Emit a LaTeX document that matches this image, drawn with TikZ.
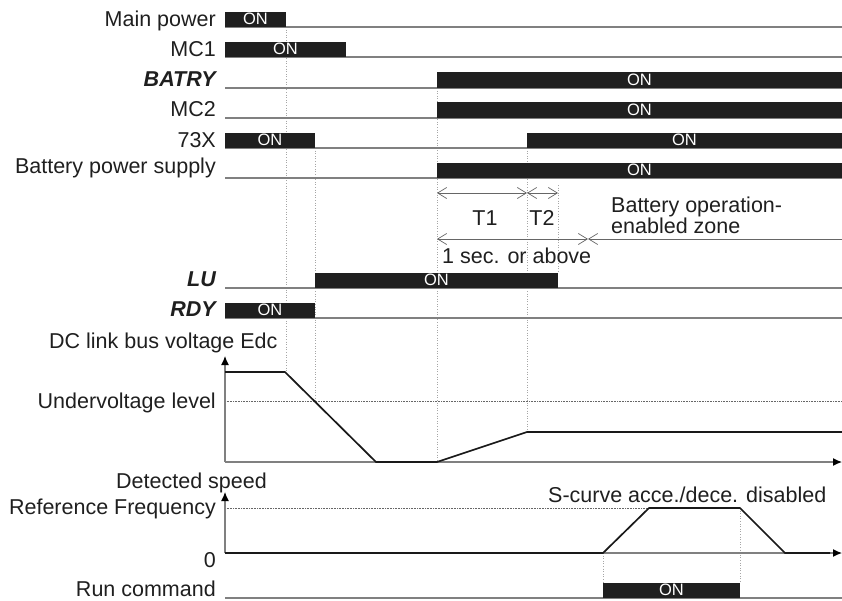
\documentclass[tikz,border=0pt]{standalone}
\usepackage{fontspec}
\setmainfont{Liberation Sans}
\usetikzlibrary{arrows.meta}
\tikzset{mtip/.tip={Straight Barb[length=9pt,width=11pt]}}
\begin{document}
\begin{tikzpicture}[x=1pt,y=-1pt,
  lbl/.style={anchor=base east,inner sep=0pt,font=\fontsize{21.5}{25}\selectfont,text=black!88},
  blbl/.style={lbl,font=\fontsize{21.5}{25}\selectfont\bfseries\itshape},
  txt/.style={anchor=base west,inner sep=0pt,font=\fontsize{21.5}{25}\selectfont,text=black!88},
  ctxt/.style={anchor=base,inner sep=0pt,font=\fontsize{21.5}{25}\selectfont,text=black!88},
  ontxt/.style={anchor=base,inner sep=0pt,font=\fontsize{16.5}{19}\selectfont,text=white},
  sig/.style={draw=black!50,line width=1.2pt},
  onbar/.style={fill=black!88},
  guide/.style={draw=black!35,dotted,line width=0.6pt},
  lvl/.style={draw=black!60,densely dotted,line width=0.6pt},
  meas/.style={draw=black!60,line width=0.7pt},
  curve/.style={draw=black!90,line width=1.7pt,line join=round},
  axis/.style={draw=black!50,line width=1.2pt,-{Latex[length=9pt,width=8pt,color=black]}}]
\useasboundingbox (0,0) rectangle (842,600);

% vertical guides
\draw[guide] (286,27) -- (286,372);
\draw[guide] (315,148) -- (315,401);
\draw[guide] (437,88) -- (437,462);
\draw[guide] (527,148) -- (527,432);
\draw[guide] (558,185) -- (558,273);
\draw[guide] (603,553) -- (603,583);
\draw[guide] (740,508) -- (740,583);

% Main power
\node[lbl] (lmain) at (216,26) {Main power};
\draw[sig] (225,27) -- (842,27);
\fill[onbar] (225,12) rectangle (286,27);
\node[ontxt] (omain) at (255.5,24.5) {ON};
% MC1
\node[lbl] (lmc1) at (216,56) {MC1};
\draw[sig] (225,57) -- (842,57);
\fill[onbar] (225,42) rectangle (346,57);
\node[ontxt] (omc1) at (285.5,54.5) {ON};
% BATRY
\node[blbl] (lbat) at (216,86) {BATRY};
\draw[sig] (225,88) -- (842,88);
\fill[onbar] (437,72) rectangle (842,88);
\node[ontxt] (obat) at (639.5,85.5) {ON};
% MC2
\node[lbl] (lmc2) at (216,116) {MC2};
\draw[sig] (225,118) -- (842,118);
\fill[onbar] (437,102) rectangle (842,118);
\node[ontxt] (omc2) at (639.5,115.5) {ON};
% 73X
\node[lbl] (l73) at (216,147) {73X};
\draw[sig] (225,148) -- (842,148);
\fill[onbar] (225,133) rectangle (315,148);
\fill[onbar] (527,133) rectangle (842,148);
\node[ontxt] (o73a) at (270,145.5) {ON};
\node[ontxt] (o73b) at (684.5,145.5) {ON};
% Battery power supply
\node[lbl] (lbps) at (216,173.5) {Battery power supply};
\draw[sig] (225,178) -- (842,178);
\fill[onbar] (437,163) rectangle (842,178);
\node[ontxt] (obps) at (639.5,175.5) {ON};

% measurement arrows
\coordinate (m1a) at (437,193);
\coordinate (m1b) at (527,193);
\coordinate (m1c) at (558,193);
\coordinate (m2a) at (437,239);
\coordinate (m2b) at (588,239);
\coordinate (m2c) at (842,239);
\draw[meas,{mtip}-{mtip}] (m1a) -- (m1b);
\draw[meas,{mtip}-{mtip}] (m1b) -- (m1c);
\draw[meas,{mtip}-{mtip}] (m2a) -- (m2b);
\draw[meas,{mtip}-] (m2b) -- (m2c);
\node[ctxt] (t1) at (485,225) {T1};
\node[ctxt] (t2) at (542,225) {T2};
\node[txt] (bz1) at (611,212) {Battery operation-};
\node[txt] (bz2) at (611,233) {enabled zone};
\node[txt] (sec) at (442,263) {1 sec. or above};

% LU
\node[blbl] (llu) at (216,286) {LU};
\draw[sig] (225,288) -- (842,288);
\fill[onbar] (315,273) rectangle (558,288);
\node[ontxt] (olu) at (436.5,285.5) {ON};
% RDY
\node[blbl] (lrdy) at (216,316) {RDY};
\draw[sig] (225,318) -- (842,318);
\fill[onbar] (225,303) rectangle (315,318);
\node[ontxt] (ordy) at (270,315.5) {ON};

% DC link bus voltage
\node[txt] (ledc) at (49,348) {DC link bus voltage Edc};
\node[lbl] (luv) at (216,408) {Undervoltage level};
\draw[lvl] (225,401) -- (842,401);
\draw[axis] (225,462) -- (842,462);
\draw[axis] (225,462) -- (225,356);
\draw[curve] (225,372) -- (285,372) -- (376,462) -- (437,462) -- (527,432) -- (842,432);

% Speed
\node[txt] (lds) at (116,488) {Detected speed};
\node[lbl] (lrf) at (216,514) {Reference Frequency};
\node[lbl] (lzero) at (216,567) {0};
\draw[lvl] (225,508) -- (649,508);
\draw[axis] (225,553) -- (842,553);
\draw[axis] (225,553) -- (225,492);
\draw[curve] (225,553) -- (603,553) -- (649,508) -- (740,508) -- (785,553) -- (830,553);
\node[txt] (lsc) at (548,502) {S-curve acce./dece. disabled};

% Run command
\node[lbl] (lrun) at (216,596) {Run command};
\draw[sig] (225,598) -- (842,598);
\fill[onbar] (603,583) rectangle (740,598);
\node[ontxt] (orun) at (671.5,595.5) {ON};
\end{tikzpicture}
\end{document}
